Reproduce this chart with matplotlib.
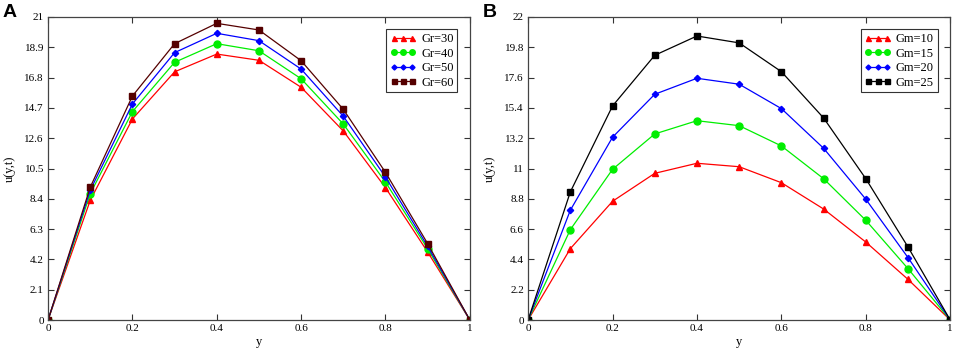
import matplotlib
matplotlib.use("Agg")
import matplotlib.pyplot as plt
import numpy as np

y_pos = [0, 0.1, 0.2, 0.3, 0.4, 0.5, 0.6, 0.7, 0.8, 0.9, 1.0]

# panel A: Grashof number
gr_labels = ["Gr=30", "Gr=40", "Gr=50", "Gr=60"]
gr30 = [0, 8.29, 13.93, 17.20, 18.43, 18.00, 16.13, 13.10, 9.17, 4.71, 0]
gr40 = [0, 8.75, 14.44, 17.86, 19.15, 18.66, 16.72, 13.58, 9.56, 4.94, 0]
gr50 = [0, 8.99, 14.97, 18.53, 19.87, 19.36, 17.39, 14.12, 9.91, 5.10, 0]
gr60 = [0, 9.20, 15.52, 19.15, 20.56, 20.10, 17.97, 14.60, 10.23, 5.29, 0]

# panel B: modified Grashof number
gm_labels = ["Gm=10", "Gm=15", "Gm=20", "Gm=25"]
gm10 = [0, 5.18, 8.62, 10.65, 11.38, 11.13, 9.97, 8.06, 5.66, 2.95, 0]
gm15 = [0, 6.56, 10.94, 13.51, 14.47, 14.11, 12.64, 10.26, 7.24, 3.73, 0]
gm20 = [0, 7.97, 13.27, 16.39, 17.55, 17.12, 15.35, 12.47, 8.77, 4.53, 0]
gm25 = [0, 9.30, 15.54, 19.22, 20.62, 20.12, 18.03, 14.67, 10.26, 5.30, 0]

x_ticks = [0, 0.2, 0.4, 0.6, 0.8, 1]
x_ticklabels = ["0", "0.2", "0.4", "0.6", "0.8", "1"]
yticks_a = [0, 2.1, 4.2, 6.3, 8.4, 10.5, 12.6, 14.7, 16.8, 18.9, 21]
yticks_b = [0, 2.2, 4.4, 6.6, 8.8, 11, 13.2, 15.4, 17.6, 19.8, 22]

SERIF = "Liberation Serif"
STYLES = [
    dict(color="#ff0000", marker="^", ms=4.5),
    dict(color="#00ee00", marker="o", ms=5),
    dict(color="#0000ff", marker="D", ms=3.2),
    dict(color="#000000", marker="s", ms=4.5),
]


def draw_panel(ax, series, labels, yticks, last_color, letter, letter_x):
    for i, (vals, lab) in enumerate(zip(series, labels)):
        st = STYLES[i]
        col = last_color if i == 3 else st["color"]
        ax.plot(y_pos, vals, color=col, lw=0.9, marker=st["marker"], ms=st["ms"],
                mfc=col, mec=col, label=lab)
    ax.set_xlim(0, 1)
    ax.set_ylim(0, yticks[-1])
    ax.set_xticks(x_ticks, x_ticklabels)
    ax.set_yticks(yticks, [f"{t:g}" for t in yticks])
    ax.tick_params(direction="in", length=4, width=0.8, top=True, right=True,
                   labelsize=8, color="#333333", pad=3)
    for lab in ax.get_xticklabels() + ax.get_yticklabels():
        lab.set_family(SERIF)
    for sp in ax.spines.values():
        sp.set_color("#444444")
        sp.set_linewidth(0.9)
    ax.set_xlabel("y", family=SERIF, fontsize=9, labelpad=2)
    ax.set_ylabel("u(y,t)", family=SERIF, fontsize=9, labelpad=6)
    leg = ax.legend(loc="upper right", numpoints=3, fancybox=False, framealpha=1,
                    edgecolor="#333333", prop={"family": SERIF, "size": 9},
                    handlelength=2.1, handletextpad=0.4, borderpad=0.3,
                    labelspacing=0.2, borderaxespad=1.0, markerscale=0.8)
    leg.get_frame().set_linewidth(0.8)
    ax.figure.text(letter_x, 0.99, letter, fontsize=14, fontweight="bold",
                   family="Liberation Sans", va="top", ha="left")


fig = plt.figure(figsize=(9.55, 3.54), dpi=100)
ax_a = fig.add_axes([0.0503, 0.096, 0.4417, 0.856])
ax_b = fig.add_axes([0.553, 0.096, 0.442, 0.856])

draw_panel(ax_a, [gr30, gr40, gr50, gr60], gr_labels, yticks_a, "#550000", "A", 0.003)
draw_panel(ax_b, [gm10, gm15, gm20, gm25], gm_labels, yticks_b, "#000000", "B", 0.505)

fig.savefig("out.png", dpi=100)
